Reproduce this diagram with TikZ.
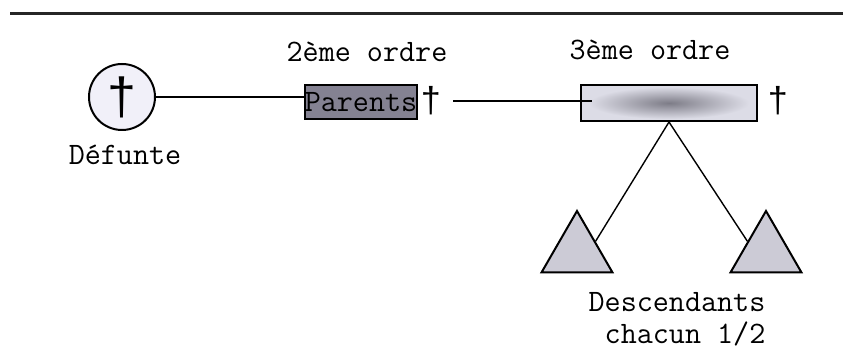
\documentclass[tikz,border=0pt]{standalone}
\usepackage{fontspec}
\newfontfamily\dagfont{Liberation Sans}
\usetikzlibrary{shapes.geometric}
\definecolor{boxdark}{RGB}{132,130,146}
\definecolor{boxlight}{RGB}{220,220,230}
\definecolor{blobgray}{RGB}{125,124,135}
\definecolor{trifill}{RGB}{204,203,214}
\definecolor{circfill}{RGB}{241,240,249}
\tikzset{
  txt/.style={font=\fontsize{15.6}{16}\ttfamily, inner sep=0pt},
  dagger/.style={font=\fontsize{18}{20}\dagfont, inner sep=0pt},
  ordrebox/.style={draw, line width=1pt, inner sep=0pt},
  descend/.style={draw, line width=1pt, fill=trifill, regular polygon, regular polygon sides=3, minimum size=41pt, inner sep=0pt},
  link/.style={line width=0.7pt}
}
\begin{document}
\begin{tikzpicture}[x=0.5pt,y=-0.5pt]
  \useasboundingbox (0,0) rectangle (843,356);
  % rule at the top
  \draw[line width=1.5pt, black!85] (10,14) -- (843,14);

  % deceased
  \node[draw, circle, line width=1pt, fill=circfill, minimum size=33pt, inner sep=0pt] (defunte) at (122,97) {};
  \node[font=\fontsize{26}{28}\dagfont, inner sep=0pt] (croix) at (defunte.center) {†};
  \node[txt] (deflabel) at (125,155) {Défunte};

  % second order
  \node[txt] (ordre2) at (367,52) {2ème ordre};
  \node[ordrebox, fill=boxdark, minimum height=17pt, inner xsep=-1.4pt, txt] (parents) at (361,102) {Parents};
  \node[dagger] (dag2) at (431,101) {†};

  % third order
  \node[txt] (ordre3) at (650,50) {3ème ordre};
  \node[ordrebox, fill=boxlight, minimum width=88pt, minimum height=18pt] (third) at (669,103) {};
  \shade[inner color=blobgray, outer color=boxlight] (third.center) ellipse (80 and 16);
  \node[dagger] (dag3) at (778,101) {†};

  \draw[link] (defunte.east) -- (defunte.east -| parents.west);
  \draw[link] ([xshift=6pt]dag2.east) -- ([xshift=6pt]dag2.east -| third.west);

  % descendants
  \node[descend] (desc1) at (577,252) {};
  \node[descend] (desc2) at (766,252) {};
  \draw[link] (third.south) -- (desc1.side 3);
  \draw[link] (third.south) -- (desc2.side 1);
  \node[txt, align=left] (desclabel) at (677,319) {Descendants\\\phantom{D}chacun 1/2};
\end{tikzpicture}
\end{document}
